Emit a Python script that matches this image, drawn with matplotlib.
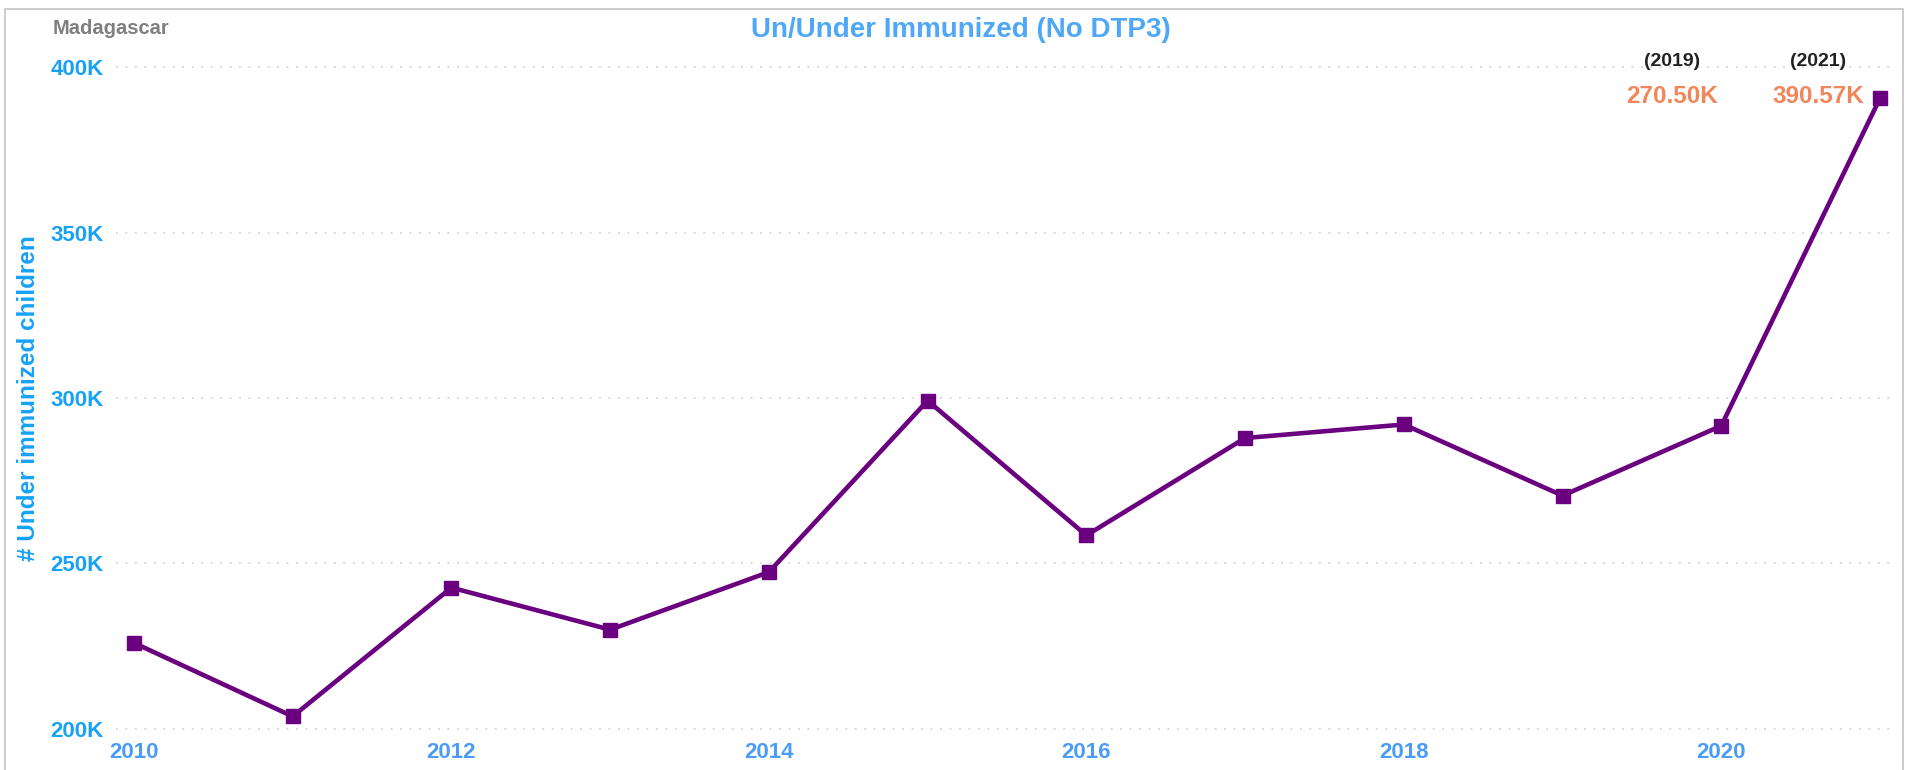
import numpy as np
import matplotlib
matplotlib.use("Agg")
import matplotlib.pyplot as plt
from matplotlib.patches import Rectangle
from matplotlib.ticker import FuncFormatter

plt.rcParams['font.family'] = ['Liberation Sans', 'DejaVu Sans']
plt.rcParams['font.weight'] = 'bold'

# data
years = [2010, 2011, 2012, 2013, 2014, 2015, 2016, 2017, 2018, 2019, 2020, 2021]
unimmunized = [226000, 203800, 242700, 230000, 247400, 299200,
               258500, 287900, 292000, 270500, 291600, 390570]
highlight_years = [2019, 2021]
country = "Madagascar"
title = "Un/Under Immunized (No DTP3)"
y_label = "# Under immunized children"
x_ticks = [2010, 2012, 2014, 2016, 2018, 2020]
y_ticks = [200000, 250000, 300000, 350000, 400000]

W, H = 1907, 770
fig = plt.figure(figsize=(W / 100, H / 100), dpi=100)

# axes box in pixels (left, top, right, bottom)
L, T, R, B = 116, 60.4, 1897, 735.6
ax = fig.add_axes([L / W, 1 - B / H, (R - L) / W, (B - T) / H])

ax.plot(years, unimmunized, color='#6a0080', lw=3.3, marker='s', ms=10,
        clip_on=False, zorder=3)

ax.set_xlim(2009.887, 2021.107)
ax.set_ylim(198000, 402000)
ax.set_xticks(x_ticks)
ax.set_yticks(y_ticks)
ax.yaxis.set_major_formatter(FuncFormatter(lambda v, p: f"{int(v / 1000)}K"))
ax.tick_params(axis='both', length=0)
ax.tick_params(axis='x', pad=4.5, labelsize=16, labelcolor='#4a9cf8')
ax.tick_params(axis='y', pad=9, labelsize=16, labelcolor='#17a2f7')
for lab in ax.get_xticklabels() + ax.get_yticklabels():
    lab.set_fontweight('bold')

ax.grid(axis='y', color='#cdcdcd', lw=1.1, linestyle=(0, (1.2, 5.0)))
ax.grid(axis='x', visible=False)
for s in ax.spines.values():
    s.set_visible(False)

ax.set_ylabel(y_label, fontsize=17.5, fontweight='bold', color='#17a2f7')
ax.yaxis.set_label_coords(40 / W, 1 - 398 / H, transform=fig.transFigure)

# frame around the whole view
fig.patches.append(Rectangle((5 / W, -0.1), 1898 / W, 1 - 9 / H + 0.1,
                             transform=fig.transFigure, fill=False,
                             edgecolor='#c4c4c4', lw=1.2))

fig.text(53 / W, 1 - 34 / H, country, fontsize=14.5, fontweight='bold',
         color='#7f7f7f', ha='left', va='baseline')
fig.text(961 / W, 1 - 37 / H, title, fontsize=20, fontweight='bold',
         color='#4ea7f7', ha='center', va='baseline')

# highlighted values at top right
label_x = {2019: 1672, 2021: 1818}
for yr in highlight_years:
    val = unimmunized[years.index(yr)]
    fig.text(label_x[yr] / W, 1 - 66 / H, f"({yr})", fontsize=14,
             fontweight='bold', color='#222222', ha='center', va='baseline')
    fig.text(label_x[yr] / W, 1 - 103 / H, f"{val / 1000:.2f}K", fontsize=17.5,
             fontweight='bold', color='#f0875a', ha='center', va='baseline')

fig.savefig("out.png", dpi=100, facecolor='white')
